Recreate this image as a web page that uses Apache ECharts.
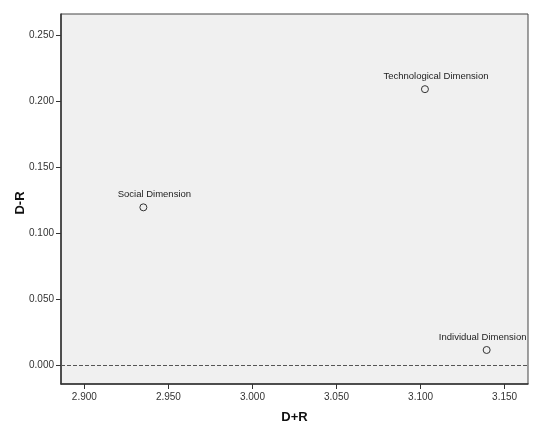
<!DOCTYPE html>
<html>
<head>
<meta charset="utf-8">
<script src="https://cdn.jsdelivr.net/npm/echarts@6/dist/echarts.min.js"></script>
<style>html,body{margin:0;padding:0;background:#fff}#c{width:550px;height:436px}</style>
</head>
<body>
<div id="c"></div>
<script>
var names = ["Technological Dimension", "Social Dimension", "Individual Dimension"];
var dPlusR = [3.1026, 2.9351, 3.1393];
var dMinusR = [0.2089, 0.1196, 0.0118];
var xTicks = [2.90, 2.95, 3.00, 3.05, 3.10, 3.15];
var yTicks = [0.00, 0.05, 0.10, 0.15, 0.20, 0.25];

// label placement style (SPSS-like shift right, clamped at plot edge)
var labelShift = [[11, 0], [11, 0], [-4, 0]];

var points = names.map(function (n, i) {
  return { name: n, value: [dPlusR[i], dMinusR[i]], label: { offset: labelShift[i] } };
});
var font = 'Liberation Sans, Arial, sans-serif';
var chart = echarts.init(document.getElementById('c'));
chart.setOption({
  backgroundColor: '#ffffff',
  animation: false,
  grid: { left: 61, top: 14, right: 22, bottom: 52, containLabel: false, outerBoundsMode: 'none', show: true, backgroundColor: '#f0f0f0', borderColor: '#444', borderWidth: 1 },
  xAxis: {
    type: 'value', min: 2.8861, max: 3.1639,
    name: 'D+R', nameLocation: 'middle', nameGap: 27, nameMoveOverlap: false,
    nameTextStyle: { fontFamily: font, fontSize: 13, fontWeight: 'bold', color: '#111' },
    axisLine: { show: true, onZero: false, lineStyle: { color: '#333', width: 1.5 } },
    axisTick: { show: true, length: 5, customValues: xTicks, lineStyle: { color: '#333' } },
    axisLabel: { customValues: xTicks, margin: 8, fontFamily: font, fontSize: 10, color: '#333', formatter: function (v) { return v.toFixed(3); } },
    splitLine: { show: false }
  },
  yAxis: {
    type: 'value', min: -0.0139, max: 0.2657,
    name: 'D-R', nameLocation: 'middle', nameGap: 34, nameMoveOverlap: false,
    nameTextStyle: { fontFamily: font, fontSize: 13, fontWeight: 'bold', color: '#111', padding: [0, 0, 0, -8] },
    axisLine: { show: true, onZero: false, lineStyle: { color: '#333', width: 1.5 } },
    axisTick: { show: true, length: 5, customValues: yTicks, lineStyle: { color: '#333' } },
    axisLabel: { customValues: yTicks, margin: 7, fontFamily: font, fontSize: 10, color: '#333', formatter: function (v) { return v.toFixed(3); } },
    splitLine: { show: false }
  },
  series: [{
    type: 'scatter',
    data: points,
    symbol: 'circle',
    symbolSize: 7,
    itemStyle: { color: '#f0f0f0', borderColor: '#333', borderWidth: 1, opacity: 1 },
    label: { show: true, position: 'top', distance: 4, formatter: '{b}', fontFamily: font, fontSize: 9.5, color: '#222' },
    markLine: {
      silent: true, symbol: 'none', label: { show: false },
      lineStyle: { type: 'dashed', color: '#555', width: 1 },
      data: [{ yAxis: 0 }]
    }
  }]
});
</script>
</body>
</html>
